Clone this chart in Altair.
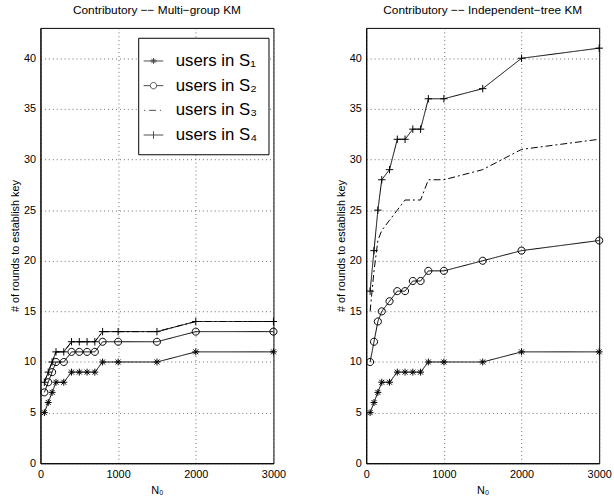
import altair as alt
import pandas as pd

# ---- data ----
n0 = [50, 100, 150, 200, 300, 400, 500, 600, 700, 800, 1000, 1500, 2000, 3000]
series_names = ["users in S₁", "users in S₂", "users in S₃", "users in S₄"]

# Multi-group KM (left)
mg_s1 = [5, 6, 7, 8, 8, 9, 9, 9, 9, 10, 10, 10, 11, 11]
mg_s2 = [7, 8, 9, 10, 10, 11, 11, 11, 11, 12, 12, 12, 13, 13]
mg_s3 = [8, 9, 10, 11, 11, 12, 12, 12, 12, 13, 13, 13, 14, 14]
mg_s4 = [8, 9, 10, 11, 11, 12, 12, 12, 12, 13, 13, 13, 14, 14]

# Independent-tree KM (right)
it_s1 = [5, 6, 7, 8, 8, 9, 9, 9, 9, 10, 10, 10, 11, 11]
it_s2 = [10, 12, 14, 15, 16, 17, 17, 18, 18, 19, 19, 20, 21, 22]
it_s3 = [15, 19, 22, 23, 24, 25, 26, 26, 26, 28, 28, 29, 31, 32]
it_s4 = [17, 21, 25, 28, 29, 32, 32, 33, 33, 36, 36, 37, 40, 41]

x_ticks = [0, 1000, 2000, 3000]
y_ticks = [0, 5, 10, 15, 20, 25, 30, 35, 40]

FONT = "Liberation Sans"

ASTER = "M-0.7,0L0.7,0M0,-0.7L0,0.7M-0.5,-0.5L0.5,0.5M-0.5,0.5L0.5,-0.5"
CIRC = "M0.72,0A0.72,0.72,0,1,1,-0.72,0A0.72,0.72,0,1,1,0.72,0Z"
PLUS = "M-0.75,0L0.75,0M0,-0.75L0,0.75"
NONE = "M0,0L0,0"

# legend symbols (unit = 12px at symbolSize 576)
L_ASTER = "M-0.83,0L0.83,0M-0.29,0L0.29,0M0,-0.25L0,0.25M-0.18,-0.18L0.18,0.18M-0.18,0.18L0.18,-0.18"
L_CIRC = "M-0.83,0L-0.27,0M0.27,0L0.83,0M0.27,0A0.27,0.27,0,1,1,-0.27,0A0.27,0.27,0,1,1,0.27,0Z"
L_DASH = "M-0.8,0L-0.7,0M-0.37,0L0.21,0M0.54,0L0.63,0"
L_PLUS = "M-0.83,0L0.83,0M0,-0.32L0,0.32"


def make_df(vals_list):
    rows = []
    for name, vals in zip(series_names, vals_list):
        for x, y in zip(n0, vals):
            rows.append({"n0": x, "rounds": y, "series": name})
    return pd.DataFrame(rows)


def panel(df, title, with_legend):
    base = alt.Chart(df)
    xenc = alt.X(
        "n0:Q",
        scale=alt.Scale(domain=[0, 3000], nice=False),
        axis=alt.Axis(values=x_ticks, title="N₀", format="d", labelFlush=False, titlePadding=6),
    )
    yenc = alt.Y(
        "rounds:Q",
        scale=alt.Scale(domain=[0, 43], nice=False),
        axis=alt.Axis(values=y_ticks, title="# of rounds to establish key", labelFlush=False),
    )
    lines = base.mark_line(color="black", strokeWidth=1).encode(
        x=xenc,
        y=yenc,
        detail="series:N",
        strokeDash=alt.StrokeDash(
            "series:N",
            scale=alt.Scale(domain=series_names, range=[[1, 0], [1, 0], [7, 3, 2, 3], [1, 0]]),
            legend=None,
        ),
    )
    points = base.mark_point(filled=False, color="black", strokeWidth=1, size=100, opacity=1).encode(
        x=xenc,
        y=yenc,
        shape=alt.Shape(
            "series:N",
            scale=alt.Scale(domain=series_names, range=[ASTER, CIRC, NONE, PLUS]),
            legend=None,
        ),
    )
    layers = [lines, points]
    if with_legend:
        leg = base.transform_filter("false").mark_point(
            filled=False, color="black", strokeWidth=1
        ).encode(
            shape=alt.Shape(
                "series:N",
                scale=alt.Scale(domain=series_names, range=[L_ASTER, L_CIRC, L_DASH, L_PLUS]),
                legend=alt.Legend(
                    title=None,
                    orient="none",
                    legendX=99,
                    legendY=10,
                    strokeColor="black",
                    fillColor="white",
                    padding=11,
                    symbolSize=576,
                    symbolStrokeColor="black",
                    symbolFillColor="transparent",
                    symbolStrokeWidth=1,
                    symbolOffset=-8,
                    labelFontSize=17,
                    labelFont=FONT,
                    labelColor="black",
                    labelOffset=10,
                    rowPadding=4,
                    labelLimit=200,
                ),
            )
        )
        layers.append(leg)
    ch = alt.layer(*layers).properties(
        width=236,
        height=441,
        title=alt.TitleParams(title, fontSize=12, fontWeight="normal", font=FONT, offset=11, color="black"),
    )
    return ch.resolve_scale(shape="independent").resolve_legend(shape="independent")


left = panel(make_df([mg_s1, mg_s2, mg_s3, mg_s4]), "Contributory −− Multi−group KM", True)
right = panel(make_df([it_s1, it_s2, it_s3, it_s4]), "Contributory −− Independent−tree KM", False)

chart = (
    alt.hconcat(left, right, spacing=49)
    .resolve_scale(shape="independent", strokeDash="independent")
    .resolve_legend(shape="independent", strokeDash="independent")
    .properties(padding={"left": 9, "top": 0, "right": 2, "bottom": 2}, background="white")
    .configure(font=FONT)
    .configure_view(stroke="black", strokeWidth=1)
    .configure_axis(
        labelFont=FONT,
        titleFont=FONT,
        labelFontSize=11,
        titleFontSize=11,
        titleFontWeight="normal",
        labelColor="black",
        titleColor="black",
        domainColor="black",
        ticks=False,
        labelPadding=5,
        titlePadding=3,
        grid=True,
        gridColor="#444",
        gridDash=[1, 3],
        gridWidth=1,
        gridOpacity=0.8,
    )
)

chart.save("out.html", embed_options={"renderer": "svg", "actions": False})
